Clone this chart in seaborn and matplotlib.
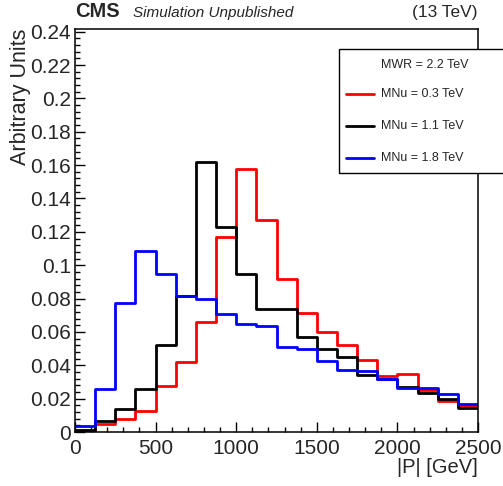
import numpy as np
import matplotlib
matplotlib.use("Agg")
import matplotlib.pyplot as plt
from matplotlib.patches import Rectangle
from matplotlib.lines import Line2D
from matplotlib.ticker import MultipleLocator, FormatStrFormatter
import pandas as pd
import seaborn as sns

# bin edges in |P| [GeV], 20 bins of 125 GeV
edges = list(range(0, 2501, 125))
centers = [0.5 * (a + b) for a, b in zip(edges[:-1], edges[1:])]

# normalised histograms
mnu_03 = [0.0006, 0.0048, 0.0080, 0.0128, 0.0276, 0.0418, 0.0662, 0.1168, 0.1576, 0.1268,
          0.0920, 0.0716, 0.0600, 0.0522, 0.0432, 0.0334, 0.0348, 0.0252, 0.0188, 0.0156]
mnu_11 = [0.0010, 0.0068, 0.0138, 0.0260, 0.0524, 0.0816, 0.1616, 0.1228, 0.0948, 0.0740,
          0.0736, 0.0572, 0.0496, 0.0448, 0.0340, 0.0316, 0.0272, 0.0236, 0.0196, 0.0142]
mnu_18 = [0.0036, 0.0260, 0.0776, 0.1086, 0.0950, 0.0816, 0.0800, 0.0708, 0.0650, 0.0636,
          0.0508, 0.0496, 0.0424, 0.0372, 0.0368, 0.0316, 0.0264, 0.0264, 0.0228, 0.0168]

labels = ["MNu = 0.3 TeV", "MNu = 1.1 TeV", "MNu = 1.8 TeV"]
series = [mnu_03, mnu_11, mnu_18]
cols = ["#ff0000", "#000000", "#0000ff"]

sns.set_style("ticks")
plt.rcParams['font.family'] = ['Liberation Sans', 'DejaVu Sans']

W, H = 503, 486
fig = plt.figure(figsize=(W / 100, H / 100), dpi=100)
ax = fig.add_axes([75 / W, 1 - 432 / H, 403 / W, 403 / H])

for vals, c in zip(series, cols):
    df = pd.DataFrame({"p": centers, "w": vals})
    sns.histplot(data=df, x="p", weights="w", bins=edges, element="step", fill=False,
                 color=c, linewidth=2, ax=ax)

ax.set_xlim(0, 2500)
ax.set_ylim(0, 0.2416)
ax.xaxis.set_major_locator(MultipleLocator(500))
ax.xaxis.set_minor_locator(MultipleLocator(100))
ax.yaxis.set_major_locator(MultipleLocator(0.02))
ax.yaxis.set_minor_locator(MultipleLocator(0.004))
ax.yaxis.set_major_formatter(FormatStrFormatter("%g"))
ax.tick_params(which="both", direction="in", labelsize=15, width=1, color="black")
ax.tick_params(which="major", length=7)
ax.tick_params(which="minor", length=3.6)
ax.tick_params(axis="x", pad=5)
ax.tick_params(axis="y", pad=3)
for s in ax.spines.values():
    s.set_linewidth(1.1)
    s.set_color("black")
ax.set_xlabel("")
ax.set_ylabel("")

# axis titles ROOT-style
fig.text(478 / W, 1 - 467 / H, "|P| [GeV]", ha="right", va="center", fontsize=14.5)
fig.text(21 / W, 1 - 29 / H, "Arbitrary Units", ha="center", va="top", rotation=90, fontsize=15.5)

# header
fig.text(75 / W, 1 - 17 / H, "CMS", ha="left", va="baseline", fontsize=14.5, fontweight="bold")
fig.text(133 / W, 1 - 17 / H, "Simulation Unpublished", ha="left", va="baseline",
         fontsize=11, style="italic")
fig.text(478 / W, 1 - 17 / H, "(13 TeV)", ha="right", va="baseline", fontsize=12.5)

# legend box
fig.patches.append(Rectangle((339 / W, 1 - 173 / H), 180 / W, 124 / H, transform=fig.transFigure,
                             facecolor="white", edgecolor="black", linewidth=1, zorder=5))
fig.text(381 / W, 1 - 65 / H, "MWR = 2.2 TeV", ha="left", va="center", fontsize=9, zorder=6)
for i, (lab, c) in enumerate(zip(labels, cols)):
    yy = 1 - (94 + 32 * i) / H
    fig.lines.append(Line2D([346 / W, 374 / W], [yy, yy], transform=fig.transFigure,
                            color=c, linewidth=2, zorder=6))
    fig.text(381 / W, yy, lab, ha="left", va="center", fontsize=9, zorder=6)

fig.savefig("out.png", dpi=100)
